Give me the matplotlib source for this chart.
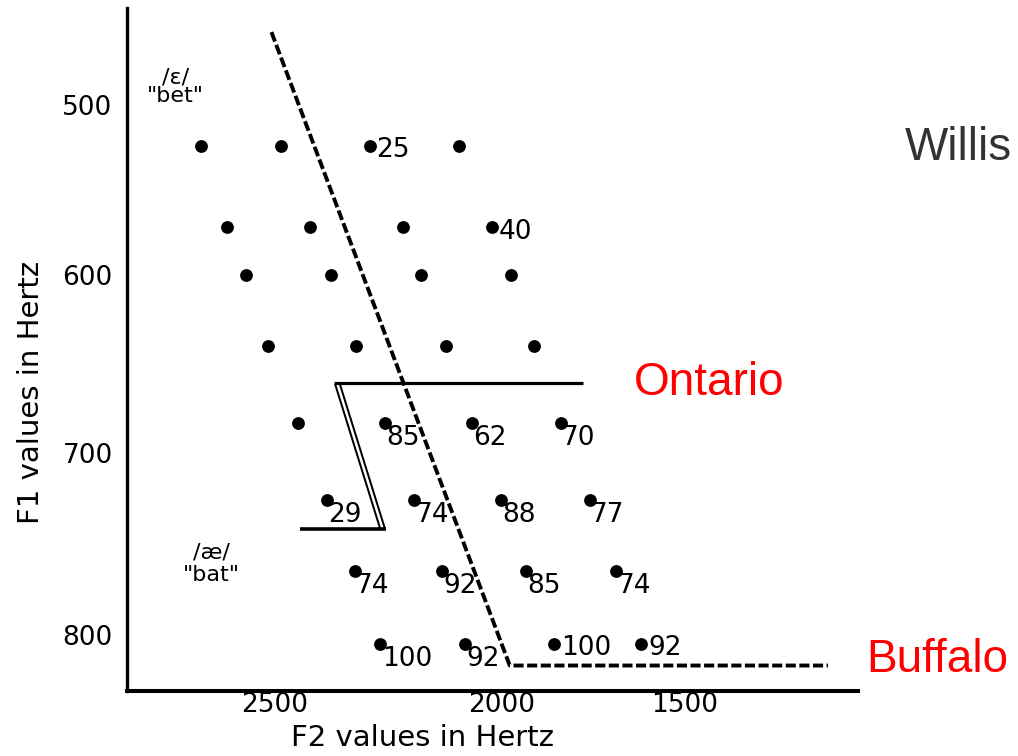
import numpy as np
import matplotlib.pyplot as plt

# F1 (vertical) rows and F2 (horizontal) positions of the stimuli, in Hz
f1_rows = [524, 572, 600, 640, 683, 726, 765, 805]
f2_grid = [
    [2661, 2485, 2291, 2093],
    [2604, 2423, 2217, 2021],
    [2562, 2375, 2178, 1975],
    [2515, 2320, 2123, 1913],
    [2449, 2258, 2066, 1839],
    [2385, 2192, 2002, 1760],
    [2324, 2131, 1934, 1687],
    [2267, 2081, 1858, 1619],
]
# percent /ae/ responses written next to some points ('' = no number)
score_grid = [
    ['', '', '25', ''],
    ['', '', '', '40'],
    ['', '', '', ''],
    ['', '', '', ''],
    ['', '85', '62', '70'],
    ['29', '74', '88', '77'],
    ['74', '92', '85', '74'],
    ['100', '92', '100', '92'],
]
# where the number sits: 'e' = to the right, 'se' = below right
side_grid = [
    ['', '', 'e', ''],
    ['', '', '', 'e'],
    ['', '', '', ''],
    ['', '', '', ''],
    ['', 'se', 'se', 'se'],
    ['se', 'se', 'se', 'se'],
    ['se', 'se', 'se', 'se'],
    ['se', 'se', 'e', 'e'],
]

# category boundaries
willis_f2 = [2507, 1978, 1109]
willis_f1 = [457, 817, 817]
ontario_top_f2 = [2370, 1779]
ontario_top_f1 = [661, 661]
ontario_diag_f2 = [2362, 2262]
ontario_diag_f1 = [661, 742]
ontario_bot_f2 = [2445, 2255]
ontario_bot_f1 = [742, 742]

f2_ticks = [2500, 2000, 1500]
f1_ticks = [500, 600, 700, 800]

# the hand drawn axes are not evenly spaced: follow the printed tick labels
f2_hz = [0, 1500, 2000, 2500, 5000]
f2_pos = [-1234, -685, -502, -275, 860]
f1_hz = [0, 500, 600, 700, 800, 2000]
f1_pos = [-745, 105, 275, 453, 635, 2819]


def f2_fwd(v):
    return np.interp(v, f2_hz, f2_pos)


def f2_inv(t):
    return np.interp(t, f2_pos, f2_hz)


def f1_fwd(v):
    return np.interp(v, f1_hz, f1_pos)


def f1_inv(t):
    return np.interp(t, f1_pos, f1_hz)


fig = plt.figure(figsize=(10.18, 7.56), dpi=100)
ax = fig.add_axes([0.1243, 0.086, 0.7185, 0.903])
ax.set_xscale('function', functions=(f2_fwd, f2_inv))
ax.set_yscale('function', functions=(f1_fwd, f1_inv))
ax.set_xlim(2826, 1027)
ax.set_ylim(831, 443)

for f1, row_f2, row_s, row_side in zip(f1_rows, f2_grid, score_grid, side_grid):
    ax.scatter(row_f2, [f1] * len(row_f2), s=85, color='black', zorder=3, linewidths=0)
    for x, s, side in zip(row_f2, row_s, row_side):
        if not s:
            continue
        off = (5, -3) if side == 'e' else (1, -11)
        ax.annotate(s, (x, f1), xytext=off, textcoords='offset points',
                    ha='left', va='center', fontsize=19)

ax.plot(willis_f2, willis_f1, color='black', lw=2.8, dashes=(2.6, 0.9),
        solid_capstyle='butt', dash_capstyle='butt')
ax.plot(ontario_diag_f2, ontario_diag_f1, color='black', lw=4.7, solid_capstyle='butt')
ax.plot(ontario_diag_f2, ontario_diag_f1, color='white', lw=1.8, solid_capstyle='butt')
ax.plot(ontario_top_f2, ontario_top_f1, color='black', lw=2.3, solid_capstyle='butt')
ax.plot(ontario_bot_f2, ontario_bot_f1, color='black', lw=2.6, solid_capstyle='butt')

ax.text(2718, 489, '/ɛ/\n"bet"', ha='center', va='center', fontsize=16, linespacing=0.9)
ax.text(2639, 761, '/æ/\n"bat"', ha='center', va='center', fontsize=16, linespacing=1.15)

ax.set_xticks(f2_ticks)
ax.set_xticklabels([str(t) for t in f2_ticks])
ax.set_yticks(f1_ticks)
ax.set_yticklabels([str(t) for t in f1_ticks])
ax.minorticks_off()
ax.tick_params(axis='x', length=0, pad=1, labelsize=19)
ax.tick_params(axis='y', length=0, pad=10, labelsize=19)

ax.spines['top'].set_visible(False)
ax.spines['right'].set_visible(False)
ax.spines['left'].set_linewidth(2.4)
ax.spines['bottom'].set_linewidth(2.9)

ax.set_xlabel('F2 values in Hertz', fontsize=21)
ax.xaxis.set_label_coords(0.404, -0.049)
ax.set_ylabel('F1 values in Hertz', fontsize=21)
ax.yaxis.set_label_coords(-0.111, 0.438)

fig.text(0.941, 0.804, 'Willis', fontsize=33, family='Liberation Sans',
         color='#333333', ha='center', va='center')
fig.text(0.697, 0.493, 'Ontario', fontsize=33, family='Liberation Sans',
         color='#ff0000', ha='center', va='center')
fig.text(0.921, 0.127, 'Buffalo', fontsize=33, family='Liberation Sans',
         color='#ff0000', ha='center', va='center')

fig.savefig('out.png', dpi=100)
